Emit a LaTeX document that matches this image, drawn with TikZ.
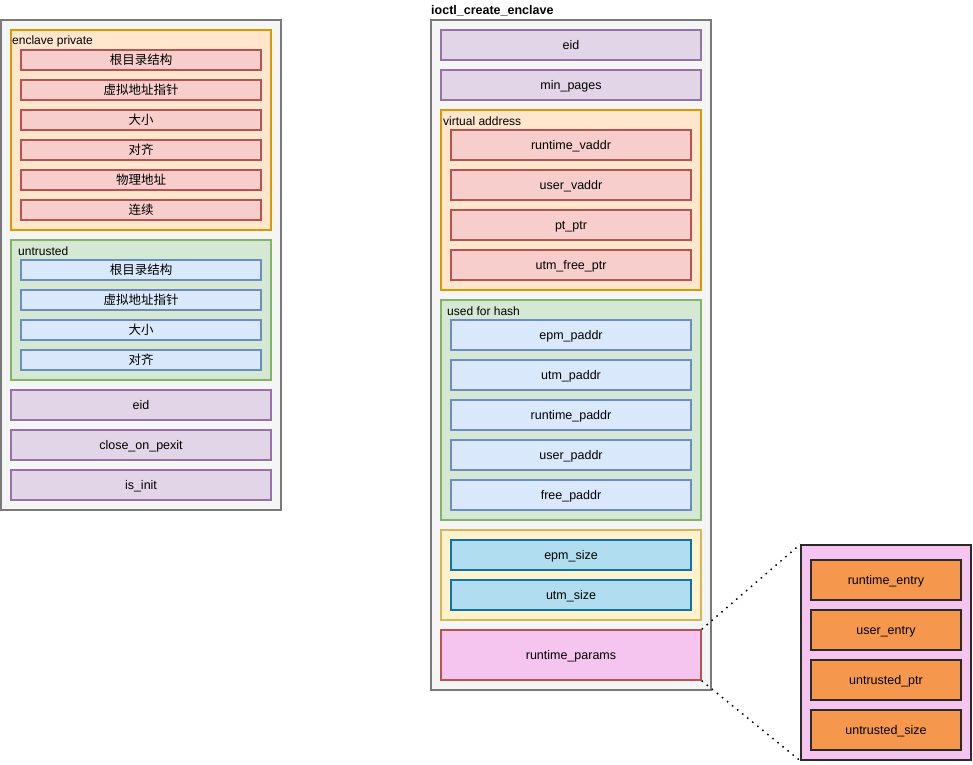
\documentclass[tikz,border=0pt]{standalone}
\usepackage{fontspec}
\setmainfont{Liberation Sans}
\newfontfamily\cjk{Noto Sans CJK SC}
\definecolor{outfill}{HTML}{F5F5F5}
\definecolor{outdraw}{HTML}{7A7A7A}
\definecolor{redfill}{HTML}{F8CECC}
\definecolor{reddraw}{HTML}{B85450}
\definecolor{bluefill}{HTML}{DAE8FC}
\definecolor{bluedraw}{HTML}{6C8EBF}
\definecolor{greenfill}{HTML}{D5E8D4}
\definecolor{greendraw}{HTML}{82B366}
\definecolor{orgfill}{HTML}{FFE6CC}
\definecolor{orgdraw}{HTML}{D79B00}
\definecolor{yelfill}{HTML}{FFF2CC}
\definecolor{yeldraw}{HTML}{D6B656}
\definecolor{purfill}{HTML}{E1D5E7}
\definecolor{purdraw}{HTML}{9673A6}
\definecolor{cyanfill}{HTML}{B1DDF0}
\definecolor{cyandraw}{HTML}{10739E}
\definecolor{pinkfill}{HTML}{F5C5F0}
\definecolor{orbfill}{HTML}{F5984E}
\definecolor{orbdraw}{HTML}{2A2A2A}
\begin{document}
\begin{tikzpicture}[x=1pt,y=-1pt,
  every node/.style={font=\fontsize{12.5}{14}\selectfont, inner sep=0pt},
  base/.style={draw, line width=1.5pt, rectangle, minimum height=20pt, text height=9pt, text depth=0pt},
  outer/.style={base, fill=outfill, draw=outdraw, minimum width=280pt},
  grp/.style={base, minimum width=260pt},
  orangegrp/.style={grp, fill=orgfill, draw=orgdraw},
  greengrp/.style={grp, fill=greenfill, draw=greendraw},
  yellowgrp/.style={grp, fill=yelfill, draw=yeldraw},
  redbox/.style={base, fill=redfill, draw=reddraw, minimum width=240pt},
  bluebox/.style={base, fill=bluefill, draw=bluedraw, minimum width=240pt},
  purplebox/.style={base, fill=purfill, draw=purdraw, minimum width=260pt, minimum height=30pt},
  cyanbox/.style={base, fill=cyanfill, draw=cyandraw, minimum width=240pt, minimum height=30pt},
  pinkbox/.style={base, fill=pinkfill, draw=reddraw, minimum width=260pt, minimum height=50pt},
  orangebox/.style={base, fill=orbfill, draw=orbdraw, line width=2pt, minimum width=150pt, minimum height=40pt},
  grplabel/.style={anchor=west, font=\fontsize{12}{13}\selectfont},
  dotline/.style={line width=1.5pt, dash pattern=on 1.5pt off 5pt}
]
\useasboundingbox (0,0) rectangle (973,764);
% ---------- left structure ----------
\node[outer, minimum height=490pt] (L) at (141,265) {};
\node[orangegrp, minimum height=200pt] (ep) at (141,130) {};
\node[grplabel] (epl) at (12,41) {enclave private};
\node[redbox] (l1) at (141,60) {\cjk 根目录结构};
\node[redbox] (l2) at (141,90) {\cjk 虚拟地址指针};
\node[redbox] (l3) at (141,120) {\cjk 大小};
\node[redbox] (l4) at (141,150) {\cjk 对齐};
\node[redbox] (l5) at (141,180) {\cjk 物理地址};
\node[redbox] (l6) at (141,210) {\cjk 连续};
\node[greengrp, minimum height=140pt] (ut) at (141,310) {};
\node[grplabel] (utl) at (18,251) {untrusted};
\node[bluebox] (u1) at (141,270) {\cjk 根目录结构};
\node[bluebox] (u2) at (141,300) {\cjk 虚拟地址指针};
\node[bluebox] (u3) at (141,330) {\cjk 大小};
\node[bluebox] (u4) at (141,360) {\cjk 对齐};
\node[purplebox] (leid) at (141,405) {eid};
\node[purplebox] (lcp) at (141,445) {close\_on\_pexit};
\node[purplebox] (lii) at (141,485) {is\_init};
% ---------- right structure ----------
\node[outer, minimum height=670pt] (R) at (571,355) {};
\node[anchor=west, font=\bfseries\fontsize{12.5}{14}\selectfont] (title) at (431,11) {ioctl\_create\_enclave};
\node[purplebox] (reid) at (571,45) {eid};
\node[purplebox] (rmp) at (571,85) {min\_pages};
\node[orangegrp, minimum height=180pt] (va) at (571,200) {};
\node[grplabel] (val) at (443,121) {virtual address};
\node[redbox, minimum height=30pt] (v1) at (571,145) {runtime\_vaddr};
\node[redbox, minimum height=30pt] (v2) at (571,185) {user\_vaddr};
\node[redbox, minimum height=30pt] (v3) at (571,225) {pt\_ptr};
\node[redbox, minimum height=30pt] (v4) at (571,265) {utm\_free\_ptr};
\node[greengrp, minimum height=220pt] (hs) at (571,410) {};
\node[grplabel] (hsl) at (447,311) {used for hash};
\node[bluebox, minimum height=30pt] (h1) at (571,335) {epm\_paddr};
\node[bluebox, minimum height=30pt] (h2) at (571,375) {utm\_paddr};
\node[bluebox, minimum height=30pt] (h3) at (571,415) {runtime\_paddr};
\node[bluebox, minimum height=30pt] (h4) at (571,455) {user\_paddr};
\node[bluebox, minimum height=30pt] (h5) at (571,495) {free\_paddr};
\node[yellowgrp, minimum height=90pt] (sz) at (571,575) {};
\node[cyanbox] (s1) at (571,555) {epm\_size};
\node[cyanbox] (s2) at (571,595) {utm\_size};
\node[pinkbox] (rp) at (571,655) {runtime\_params};
% ---------- runtime params detail ----------
\node[base, fill=pinkfill, draw=orbdraw, minimum width=170pt, minimum height=215pt] (P) at (886,652.5) {};
\node[orangebox] (p1) at (886,580) {runtime\_entry};
\node[orangebox] (p2) at (886,630) {user\_entry};
\node[orangebox] (p3) at (886,680) {untrusted\_ptr};
\node[orangebox] (p4) at (886,730) {untrusted\_size};
\draw[dotline] (rp.north east) -- (P.north west);
\draw[dotline] (rp.south east) -- (P.south west);
\end{tikzpicture}
\end{document}
